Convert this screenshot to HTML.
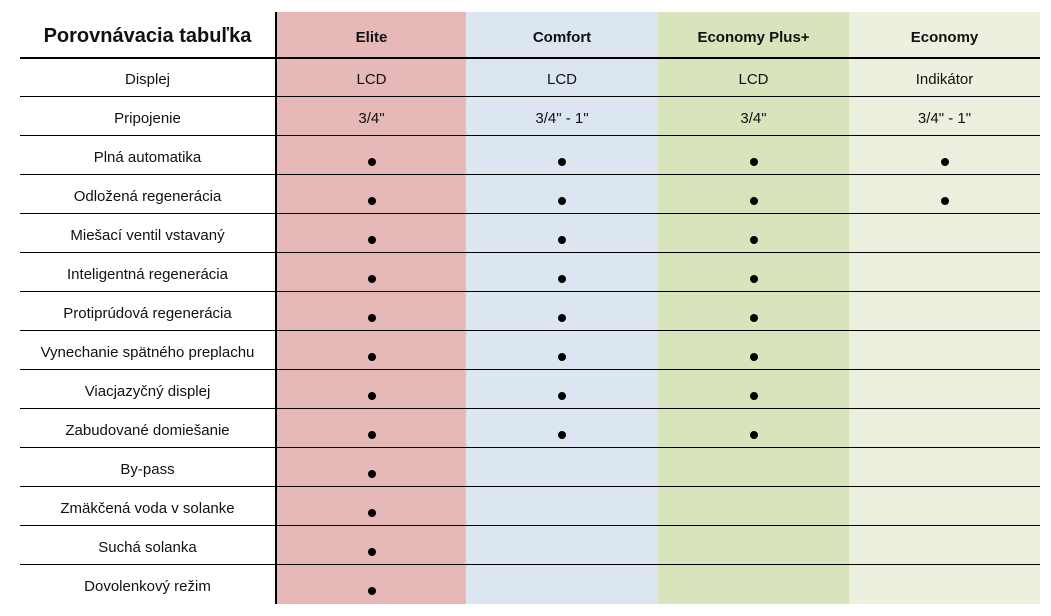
<!DOCTYPE html>
<html><head><meta charset="utf-8"><style>
body{margin:0;width:1051px;height:616px;background:#fff;position:relative;overflow:hidden;font-family:"Liberation Sans",sans-serif;}
.a{position:absolute;box-sizing:border-box;}
.t{position:absolute;display:flex;align-items:center;justify-content:center;color:#111;font-size:15px;}
.dot{position:absolute;width:8px;height:8px;border-radius:50%;background:#000;}
.hl{position:absolute;height:1px;background:#000;left:20px;width:1020px;}
</style></head><body>
<div class="a" style="left:277px;top:12px;width:189px;height:592px;background:#e6b8b7"></div>
<div class="a" style="left:466px;top:12px;width:192px;height:592px;background:#dce6f1"></div>
<div class="a" style="left:658px;top:12px;width:191px;height:592px;background:#d8e4bc"></div>
<div class="a" style="left:849px;top:12px;width:191px;height:592px;background:#ebf1de"></div>
<div id="root"></div>
<div class="a" style="left:20px;top:57px;width:1020px;height:2px;background:#000"></div>
<div class="a" style="left:275px;top:12px;width:2px;height:592px;background:#000"></div>
<div class="t" style="left:20px;top:13px;width:255px;height:46px;font-size:20px;font-weight:bold;">Porovnávacia tabuľka</div>
<script>
const cols=[{n:"Elite",x:277,w:189},{n:"Comfort",x:466,w:192},{n:"Economy Plus+",x:658,w:191},{n:"Economy",x:849,w:191}];
const rows=["Displej","Pripojenie","Plná automatika","Odložená regenerácia","Miešací ventil vstavaný","Inteligentná regenerácia","Protiprúdová regenerácia","Vynechanie spätného preplachu","Viacjazyčný displej","Zabudované domiešanie","By-pass","Zmäkčená voda v solanke","Suchá solanka","Dovolenkový režim"];
const textVals={0:["LCD","LCD","LCD","Indikátor"],1:['3/4"','3/4" - 1"','3/4"','3/4" - 1"']};
const featureCount=[4,4,3,3,3,3,3,3,1,1,1,1];
const root=document.getElementById('root');
cols.forEach((c,i)=>{
 const h=document.createElement('div');h.className='t';
 
 
 h.style.cssText=`left:${c.x}px;top:14px;width:${c.w}px;height:46px;font-weight:bold;font-size:15px;`;
 h.textContent=c.n;root.appendChild(h);
});
rows.forEach((r,i)=>{
 const y=58+i*39;
 const l=document.createElement('div');l.className='t';
 
 
 l.style.cssText=`left:20px;top:${y+2}px;width:255px;height:39px;`;
 l.textContent=r;root.appendChild(l);
 if(i<rows.length-1){const hl=document.createElement('div');hl.className='hl';hl.style.top=(y+38)+'px';
 
 
 root.appendChild(hl);}
 cols.forEach((c,j)=>{
  if(textVals[i]){const t=document.createElement('div');t.className='t';
   
   
   t.style.cssText=`left:${c.x}px;top:${y+2}px;width:${c.w}px;height:39px;`;t.textContent=textVals[i][j];root.appendChild(t);}
  else if(j<featureCount[i-2]){const d=document.createElement('div');d.className='dot';
   
   
   d.style.left=(c.x+c.w/2-4)+'px';d.style.top=(y+22)+'px';root.appendChild(d);}
 });
});
</script>
</body></html>
